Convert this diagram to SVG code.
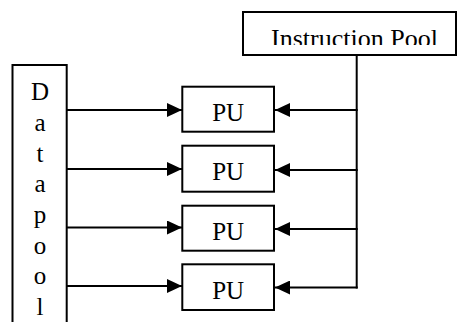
<svg xmlns="http://www.w3.org/2000/svg" width="457" height="322" viewBox="0 0 457 322">
<style>
.box{fill:#fff;stroke:#000;stroke-width:2}
.ln{fill:none;stroke:#000;stroke-width:2}
.t{font-family:"Liberation Serif","Times New Roman",serif;font-size:25px;fill:#000;text-anchor:middle}
</style>
<defs>
<marker id="ah" viewBox="0 0 15 14" refX="15" refY="7" markerWidth="15" markerHeight="14" markerUnits="userSpaceOnUse" orient="auto">
<path d="M0,0 L15,7 L0,14 Z" fill="#000"/>
</marker>
<clipPath id="ipclip"><rect x="243" y="12" width="214" height="33"/></clipPath>
</defs>
<rect width="457" height="322" fill="#fff"/>
<g id="connectors">
<line class="ln" x1="67" y1="110" x2="182" y2="110" marker-end="url(#ah)"/>
<line class="ln" x1="67" y1="169" x2="182" y2="169" marker-end="url(#ah)"/>
<line class="ln" x1="67" y1="227.5" x2="182" y2="227.5" marker-end="url(#ah)"/>
<line class="ln" x1="67" y1="286" x2="182" y2="286" marker-end="url(#ah)"/>
<line class="ln" x1="356.7" y1="55" x2="356.7" y2="288.5"/>
<line class="ln" x1="357.7" y1="110" x2="275" y2="110" marker-end="url(#ah)"/>
<line class="ln" x1="357.7" y1="170" x2="275" y2="170" marker-end="url(#ah)"/>
<line class="ln" x1="357.7" y1="229" x2="275" y2="229" marker-end="url(#ah)"/>
<line class="ln" x1="357.7" y1="287.5" x2="275" y2="287.5" marker-end="url(#ah)"/>
</g>
<g id="datapool">
<rect class="box" x="12.5" y="65" width="54.2" height="270"/>
<text class="t" x="40" y="100">D</text>
<text class="t" x="40" y="131">a</text>
<text class="t" x="40" y="161.5">t</text>
<text class="t" x="40" y="192">a</text>
<text class="t" x="40" y="223">p</text>
<text class="t" x="40" y="253.5">o</text>
<text class="t" x="40" y="284">o</text>
<text class="t" x="40" y="315">l</text>
</g>
<g id="instructionpool">
<rect class="box" x="243" y="12" width="213" height="43"/>
<text class="t" x="354.5" y="47" clip-path="url(#ipclip)" style="font-size:26px">Instruction Pool</text>
</g>
<g id="pu1">
<rect class="box" x="182.3" y="86.7" width="91.7" height="45"/>
<text class="t" x="228.2" y="120.7">PU</text>
</g>
<g id="pu2">
<rect class="box" x="182.3" y="145.7" width="91.7" height="46"/>
<text class="t" x="228.2" y="180">PU</text>
</g>
<g id="pu3">
<rect class="box" x="182.3" y="205.7" width="91.7" height="45"/>
<text class="t" x="228.2" y="239.5">PU</text>
</g>
<g id="pu4">
<rect class="box" x="182.3" y="264.3" width="91.7" height="45.7"/>
<text class="t" x="228.2" y="298.5">PU</text>
</g>
</svg>
